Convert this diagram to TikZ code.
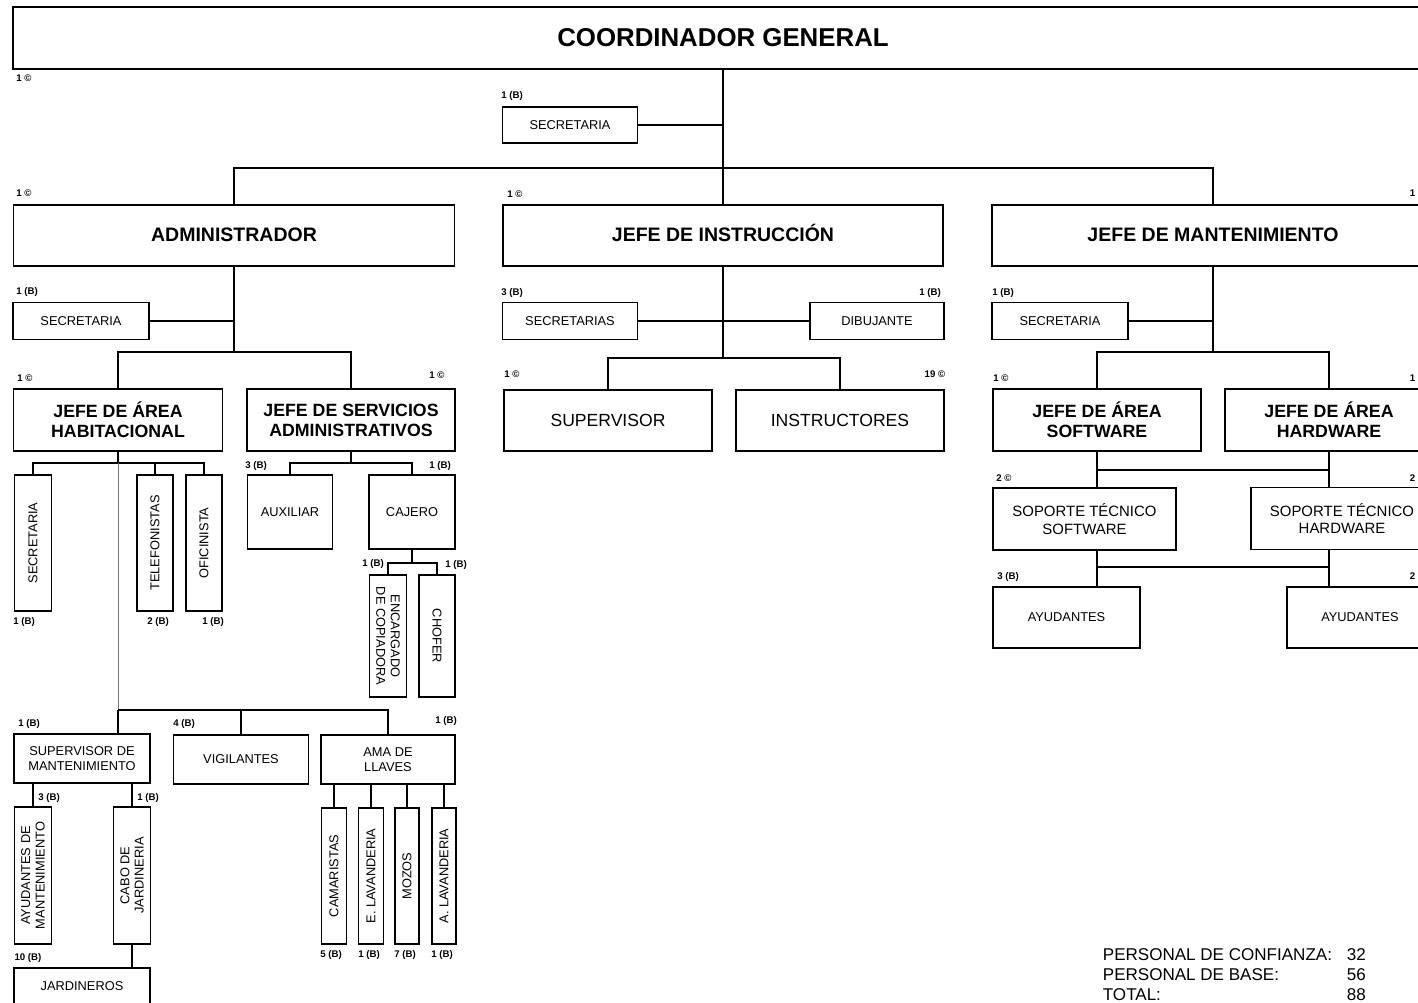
\documentclass[tikz,border=0pt]{standalone}
\usepackage{fontspec}
\setmainfont{Liberation Sans}
\usepackage{graphicx}
\usetikzlibrary{positioning}

\tikzset{
  bx/.style 2 args={draw, minimum width=#1*0.02cm, minimum height=#2*0.02cm,
    inner sep=0pt, align=center, font=\fontsize{7.3}{8.7}\selectfont},
  hdr/.style={font=\fontsize{14.7}{16}\selectfont\bfseries},
  jefe/.style={font=\fontsize{11.1}{13}\selectfont\bfseries, text height=1.6ex, text depth=0.2ex},
  area/.style={font=\fontsize{10.1}{11.3}\selectfont\bfseries},
  plain/.style={font=\fontsize{10}{12}\selectfont},
  sop/.style={font=\fontsize{8.5}{10.2}\selectfont},
  cnt/.style={font=\fontsize{5.5}{6}\selectfont\bfseries, inner sep=0pt},
  legend/.style={font=\fontsize{9.7}{11.6}\selectfont, inner sep=0pt}
}

\begin{document}
\begin{tikzpicture}[x=0.02cm, y=-0.02cm, line width=1pt]
    \useasboundingbox (0,0) rectangle (1418,1003);
    \clip (0,0) rectangle (1418,1003);
    \fill[white] (0,0) rectangle (1418,1003);

    % Top level
    \node[bx={1420}{62}, hdr] (gen) at (723,38) {COORDINADOR GENERAL};
    \node[cnt] (c-gen) at (24,78) {1 ©};
    \node[bx={135}{36}] (sec0) at (570,125) {SECRETARIA};
    \node[cnt] (c-sec0) at (512,96) {1 (B)};
    \coordinate (j0) at (723,168);
    \draw (gen.south) -- (j0);
    \draw (sec0.east) -- (sec0.east -| j0);

    % Second level
    \node[bx={441}{61}, jefe] (adm) at (234,235.5) {ADMINISTRADOR};
    \node[bx={440}{61}, jefe] (ins) at (723,235.5) {JEFE DE INSTRUCCIÓN};
    \node[bx={442}{61}, jefe] (man) at (1213,235.5) {JEFE DE MANTENIMIENTO};
    \node[cnt] (c-adm) at (24,193) {1 ©};
    \node[cnt] (c-ins) at (515,194) {1 ©};
    \node[cnt, anchor=east] (c-man) at (1416,193) {1};
    \draw (adm.north) |- (j0) -| (man.north);
    \draw (j0) -- (ins.north);

    % Administrador
    \node[bx={136}{37}] (secA) at (81,321) {SECRETARIA};
    \node[cnt] (c-secA) at (27,292) {1 (B)};
    \node[bx={209}{62}, area] (hab) at (118,420) {JEFE DE ÁREA\\HABITACIONAL};
    \node[bx={208}{62}, area] (srv) at (351,420) {JEFE DE SERVICIOS\\ADMINISTRATIVOS};
    \node[cnt] (c-hab) at (25,378) {1 ©};
    \node[cnt] (c-srv) at (437,375) {1 ©};
    \coordinate (jA) at (234,352);
    \draw (adm.south) -- (jA);
    \draw (secA.east) -- (secA.east -| jA);
    \draw (hab.north) |- (jA) -| (srv.north);

    % Area habitacional
    \node[bx={37}{136}] (vsec) at (33,543) {\rotatebox{90}{SECRETARIA}};
    \node[bx={36}{136}] (vtel) at (155,543) {\rotatebox{90}{TELEFONISTAS}};
    \node[bx={36}{136}] (vofi) at (204,543) {\rotatebox{90}{OFICINISTA}};
    \node[cnt] (c-vsec) at (24,622) {1 (B)};
    \node[cnt] (c-vtel) at (158,622) {2 (B)};
    \node[cnt] (c-vofi) at (213,622) {1 (B)};
    \coordinate (jH) at (118,463);
    \coordinate (jH2) at (118,710);
    \draw (hab.south) -- (jH);
    \draw (vsec.north) |- (jH) -| (vofi.north);
    \draw (vtel.north) -- (vtel.north |- jH);
    \draw[line width=0.5pt, black!55] (jH) -- (jH2);

    \node[bx={136}{49}] (supm) at (82,758.5) {SUPERVISOR DE\\MANTENIMIENTO};
    \node[bx={135}{49}] (vig) at (241,759.5) {VIGILANTES};
    \node[bx={134}{49}] (ama) at (388,759.5) {AMA DE\\LLAVES};
    \node[cnt] (c-supm) at (29,724) {1 (B)};
    \node[cnt] (c-vig) at (184,724) {4 (B)};
    \node[cnt] (c-ama) at (446,721) {1 (B)};
    \draw (jH2) -- (jH2 |- supm.north);
    \draw (jH2) -| (ama.north);
    \draw (vig.north) -- (vig.north |- jH2);

    \node[bx={37}{137}] (ayu) at (33,875.5) {\rotatebox{90}{\shortstack{AYUDANTES DE\\MANTENIMIENTO}}};
    \node[bx={37}{137}] (cabo) at (132,875.5) {\rotatebox{90}{\shortstack{CABO DE\\JARDINERIA}}};
    \node[bx={136}{36}] (jar) at (82,986) {JARDINEROS};
    \node[cnt] (c-ayu) at (49,798) {3 (B)};
    \node[cnt] (c-cabo) at (148,798) {1 (B)};
    \node[cnt] (c-jar) at (28,958) {10 (B)};
    \draw (ayu.north) -- (ayu.north |- supm.south);
    \draw (cabo.north) -- (cabo.north |- supm.south);
    \draw (cabo.south) -- (cabo.south |- jar.north);

    \node[bx={25}{136}] (cam) at (334,876) {\rotatebox{90}{CAMARISTAS}};
    \node[bx={25}{136}] (elav) at (371,876) {\rotatebox{90}{E. LAVANDERIA}};
    \node[bx={24}{136}] (moz) at (407,876) {\rotatebox{90}{MOZOS}};
    \node[bx={24}{136}] (alav) at (444,876) {\rotatebox{90}{A. LAVANDERIA}};
    \node[cnt] (c-cam) at (331,955) {5 (B)};
    \node[cnt] (c-elav) at (369,955) {1 (B)};
    \node[cnt] (c-moz) at (405,955) {7 (B)};
    \node[cnt] (c-alav) at (442,955) {1 (B)};
    \foreach \n in {cam,elav,moz,alav}
        \draw (\n.north) -- (\n.north |- ama.south);

    % Servicios administrativos
    \node[bx={85}{74}] (aux) at (290,512) {AUXILIAR};
    \node[bx={86}{74}] (caj) at (412,512) {CAJERO};
    \node[cnt] (c-aux) at (256,466) {3 (B)};
    \node[cnt] (c-caj) at (440,466) {1 (B)};
    \coordinate (jS) at (351,463);
    \draw (srv.south) -- (jS);
    \draw (aux.north) |- (jS) -| (caj.north);

    \node[bx={37}{122}] (enc) at (388,636) {\rotatebox{-90}{\shortstack{ENCARGADO\\DE COPIADORA}}};
    \node[bx={36}{122}] (cho) at (437,636) {\rotatebox{-90}{CHOFER}};
    \node[cnt] (c-enc) at (373,564) {1 (B)};
    \node[cnt] (c-cho) at (456,565) {1 (B)};
    \coordinate (jC) at (412,563);
    \draw (caj.south) -- (jC);
    \draw (enc.north) |- (jC) -| (cho.north);

    % Instruccion
    \node[bx={135}{37}] (secI) at (570,321) {SECRETARIAS};
    \node[bx={134}{37}] (dib) at (877,321) {DIBUJANTE};
    \node[cnt] (c-secI) at (512,293) {3 (B)};
    \node[cnt] (c-dib) at (930,293) {1 (B)};
    \node[bx={208}{61}, plain] (sup) at (608,420.5) {SUPERVISOR};
    \node[bx={208}{61}, plain] (inst) at (840,420.5) {INSTRUCTORES};
    \node[cnt] (c-sup) at (512,374) {1 ©};
    \node[cnt] (c-inst) at (935,374) {19 ©};
    \coordinate (jI) at (723,358);
    \draw (ins.south) -- (jI);
    \draw (secI.east) -- (dib.west);
    \draw (sup.north) |- (jI) -| (inst.north);

    % Mantenimiento
    \node[bx={136}{37}] (secM) at (1060,321) {SECRETARIA};
    \node[cnt] (c-secM) at (1003,293) {1 (B)};
    \node[bx={208}{62}, area] (sw) at (1097,420) {JEFE DE ÁREA\\SOFTWARE};
    \node[bx={208}{62}, area] (hw) at (1329,420) {JEFE DE ÁREA\\HARDWARE};
    \node[cnt] (c-sw) at (1001,378) {1 ©};
    \node[cnt, anchor=east] (c-hw) at (1416,378) {1};
    \coordinate (jM) at (1213,352);
    \draw (man.south) -- (jM);
    \draw (secM.east) -- (secM.east -| jM);
    \draw (sw.north) |- (jM) -| (hw.north);

    \node[bx={183}{62}, sop] (stsw) at (1084.5,519) {SOPORTE TÉCNICO\\SOFTWARE};
    \node[bx={182}{62}, sop] (sthw) at (1342,518.5) {SOPORTE TÉCNICO\\HARDWARE};
    \node[cnt] (c-stsw) at (1004,478) {2 ©};
    \node[cnt, anchor=east] (c-sthw) at (1416,478) {2};
    \draw (sw.south) -- (sw.south |- stsw.north);
    \draw (hw.south) -- (hw.south |- sthw.north);
    \draw (sw.south |- 0,470) -- (hw.south |- 0,470);

    \node[bx={147}{61}] (aysw) at (1066.5,617.5) {AYUDANTES};
    \node[bx={146}{61}] (ayhw) at (1360,617.5) {AYUDANTES};
    \node[cnt] (c-aysw) at (1008,577) {3 (B)};
    \node[cnt, anchor=east] (c-ayhw) at (1416,576) {2};
    \draw (sw.south |- stsw.south) -- (sw.south |- aysw.north);
    \draw (hw.south |- sthw.south) -- (hw.south |- ayhw.north);
    \draw (sw.south |- 0,567) -- (hw.south |- 0,567);

    % Totals
    \node[legend, anchor=north west] (tot) at (1102,945) {%
      \begin{tabular}{@{}l@{\hspace{8.5pt}}r@{}}
        PERSONAL DE CONFIANZA: & 32\\
        PERSONAL DE BASE: & 56\\
        TOTAL: & 88
      \end{tabular}};
\end{tikzpicture}
\end{document}
